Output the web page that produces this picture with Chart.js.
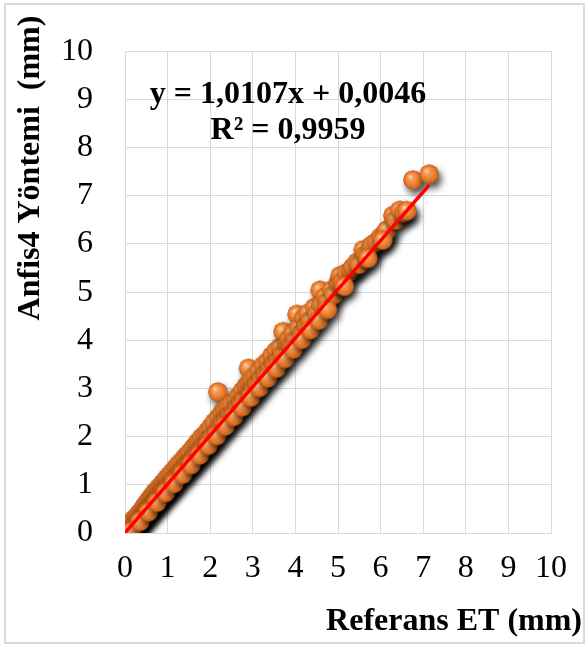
<!DOCTYPE html>
<html>
<head>
<meta charset="utf-8">
<script src="https://cdn.jsdelivr.net/npm/chart.js@4.4.0/dist/chart.umd.min.js"></script>
<style>
  html, body { margin: 0; padding: 0; background: #ffffff; }
  #wrap { position: relative; width: 585px; height: 646px; }
  canvas { display: block; }
</style>
</head>
<body>
<div id="wrap"><canvas id="c" width="585" height="646"></canvas></div>
<script>
// ---- Data ----
const refET = [
  0.00,0.02,0.05,0.08,0.10,0.12,0.15,0.18,0.20,0.22,0.25,0.28,0.30,0.33,0.36,0.40,0.42,0.45,0.48,0.50,
  0.52,0.55,0.58,0.60,0.63,0.65,0.68,0.70,0.72,0.75,0.78,0.80,0.83,0.85,0.88,0.90,0.93,0.96,0.98,
  1.00,1.03,1.06,1.10,1.12,1.15,1.20,1.22,1.26,1.30,1.33,1.36,1.40,1.43,1.47,1.50,1.53,1.57,1.60,1.63,
  1.67,1.70,1.73,1.77,1.80,1.84,1.88,1.92,1.95,1.98,
  2.02,2.05,2.10,2.15,2.18,2.20,2.24,2.28,2.30,2.35,2.38,2.42,2.46,2.50,2.55,2.60,2.63,2.68,2.72,2.76,
  2.80,2.85,2.90,2.92,2.95,2.98,
  3.02,3.06,3.10,3.15,3.20,3.25,3.30,3.35,3.40,3.45,3.50,3.55,3.60,3.65,3.70,3.71,3.80,3.85,3.90,3.95,4.00,
  4.04,4.08,4.15,4.20,4.25,4.30,4.35,4.45,4.50,4.58,4.60,4.70,4.75,4.85,4.90,5.00,
  5.05,5.10,5.20,5.30,5.35,5.45,5.50,5.59,5.65,5.75,5.80,5.90,6.00,
  6.10,6.15,6.29,6.35,6.45,6.55,6.62,6.76,7.14,
  0.15,0.35,0.55,0.75,0.95,1.15,1.35,1.55,1.75,1.95,2.15,2.35,2.55,2.75,2.95,
  3.15,3.35,3.55,3.75,3.95,4.15,4.35,4.55,4.75,5.15,5.70,6.05
];
const anfis4 = [
  0.00,0.08,0.03,0.14,0.08,0.18,0.12,0.24,0.17,0.29,0.22,0.34,0.26,0.40,0.32,0.47,0.38,0.54,0.45,0.60,
  0.48,0.66,0.55,0.72,0.60,0.78,0.65,0.84,0.70,0.88,0.74,0.94,0.80,0.98,0.86,1.04,0.90,1.10,0.95,
  1.15,1.00,1.20,1.05,1.27,1.12,1.35,1.18,1.42,1.27,1.48,1.32,1.56,1.38,1.62,1.45,1.68,1.52,1.76,1.58,
  1.83,1.66,1.90,1.72,1.98,1.80,2.04,1.86,2.12,1.95,
  2.20,2.00,2.30,2.10,2.93,2.40,2.20,2.50,2.28,2.56,2.35,2.62,2.45,2.68,2.50,2.76,2.60,2.85,2.70,2.95,
  2.78,3.05,3.42,3.12,2.90,3.18,
  3.00,3.26,3.10,3.36,3.20,3.48,3.30,3.56,3.40,3.68,3.50,3.78,3.58,3.86,3.70,4.18,3.92,4.02,3.90,4.16,4.00,
  4.54,4.26,4.15,4.46,4.30,4.56,4.40,4.68,4.55,5.04,4.74,4.90,4.80,5.04,4.95,5.18,
  5.34,5.22,5.40,5.44,5.52,5.62,5.58,5.88,5.78,5.88,5.98,6.04,6.14,
  6.22,6.29,6.59,6.50,6.70,6.65,6.69,7.33,7.45,
  0.04,0.24,0.44,0.64,0.84,1.03,1.22,1.42,1.62,1.82,2.02,2.22,2.42,2.62,2.82,
  3.02,3.22,3.42,3.62,3.82,4.02,4.22,4.42,4.64,5.12,5.70,6.08
];
// Trendline as printed on the chart
const slope = 1.0107;
const intercept = 0.0046;
const trendStart = 0;
const trendEnd = 7.14;
const xTicks = [0,1,2,3,4,5,6,7,8,9,10];
const yTicks = [0,1,2,3,4,5,6,7,8,9,10];
const equationLines = ["y = 1,0107x + 0,0046", "R² = 0,9959"];
const xTitle = "Referans ET (mm)";
const yTitle = "Anfis4 Yöntemi  (mm)";

// ---- sphere marker image ----
function makeSphere() {
  const s = 44, c = s / 2, r = 9.6;
  const cv = document.createElement('canvas');
  cv.width = s; cv.height = s;
  const g = cv.getContext('2d');
  g.save();
  g.shadowColor = 'rgba(0,0,0,0.7)';
  g.shadowBlur = 7;
  g.shadowOffsetX = 3;
  g.shadowOffsetY = 5;
  g.beginPath(); g.arc(c, c, r, 0, Math.PI * 2);
  g.fillStyle = '#D8691F';
  g.fill();
  g.restore();
  const grad = g.createRadialGradient(c - 3, c - 3.5, 0.5, c, c, r);
  grad.addColorStop(0, '#FBD2AE');
  grad.addColorStop(0.25, '#F6A05C');
  grad.addColorStop(0.6, '#EE8336');
  grad.addColorStop(0.88, '#D46C22');
  grad.addColorStop(1, '#A9551B');
  g.beginPath(); g.arc(c, c, r, 0, Math.PI * 2);
  g.fillStyle = grad;
  g.fill();
  return cv;
}
const sphere = makeSphere();

const FONT = "'Liberation Serif', 'Times New Roman', serif";

const framePlugin = {
  id: 'frame',
  beforeDraw(chart) {
    const ctx = chart.ctx;
    ctx.save();
    ctx.fillStyle = '#ffffff';
    ctx.fillRect(0, 0, chart.width, chart.height);
    ctx.strokeStyle = '#d9d9d9';
    ctx.lineWidth = 2;
    ctx.strokeRect(5, 4, 579, 639);
    ctx.restore();
  },
  afterDraw(chart) {
    const ctx = chart.ctx;
    ctx.save();
    ctx.fillStyle = '#000000';
    ctx.font = "bold 32px " + FONT;
    ctx.textAlign = 'center';
    ctx.textBaseline = 'middle';
    ctx.fillText(equationLines[0], 288, 95);
    ctx.fillText(equationLines[1], 288, 131);
    // x title
    ctx.textAlign = 'right';
    ctx.fillText(xTitle, 582, 622);
    // y title
    ctx.translate(31, 168);
    ctx.rotate(-Math.PI / 2);
    ctx.textAlign = 'center';
    ctx.fillText(yTitle, 0, 0);
    ctx.restore();
  }
};

const points = refET.map((x, i) => ({ x: x, y: anfis4[i] }));
const trend = [
  { x: trendStart, y: slope * trendStart + intercept },
  { x: trendEnd, y: slope * trendEnd + intercept }
];

new Chart(document.getElementById('c'), {
  type: 'scatter',
  data: {
    datasets: [
      {
        type: 'line',
        data: trend,
        borderColor: '#FF0000',
        borderWidth: 3.5,
        pointRadius: 0,
        fill: false,
        order: 0
      },
      {
        data: points,
        pointStyle: sphere,
        pointRadius: 10,
        order: 1
      }
    ]
  },
  options: {
    responsive: false,
    animation: false,
    events: [],
    layout: { padding: { top: 35, right: 34, left: 0, bottom: 0 } },
    plugins: { legend: { display: false }, tooltip: { enabled: false } },
    scales: {
      x: {
        type: 'linear',
        min: 0, max: 10,
        afterBuildTicks: (s) => { s.ticks = xTicks.map(v => ({ value: v })); },
        afterFit: (s) => { s.height = 113; },
        grid: { color: '#d9d9d9', lineWidth: 1, drawTicks: false },
        border: { display: true, color: '#d9d9d9', width: 1 },
        ticks: { color: '#000', font: { family: FONT, size: 32 }, padding: 16, maxRotation: 0, autoSkip: false }
      },
      y: {
        type: 'linear',
        min: 0, max: 10,
        afterBuildTicks: (s) => { s.ticks = yTicks.map(v => ({ value: v })); },
        afterFit: (s) => { s.width = 125; },
        grid: { color: '#d9d9d9', lineWidth: 1, drawTicks: false },
        border: { display: true, color: '#d9d9d9', width: 1 },
        ticks: { color: '#000', font: { family: FONT, size: 32 }, padding: 32, autoSkip: false }
      }
    }
  },
  plugins: [framePlugin]
});
</script>
</body>
</html>
